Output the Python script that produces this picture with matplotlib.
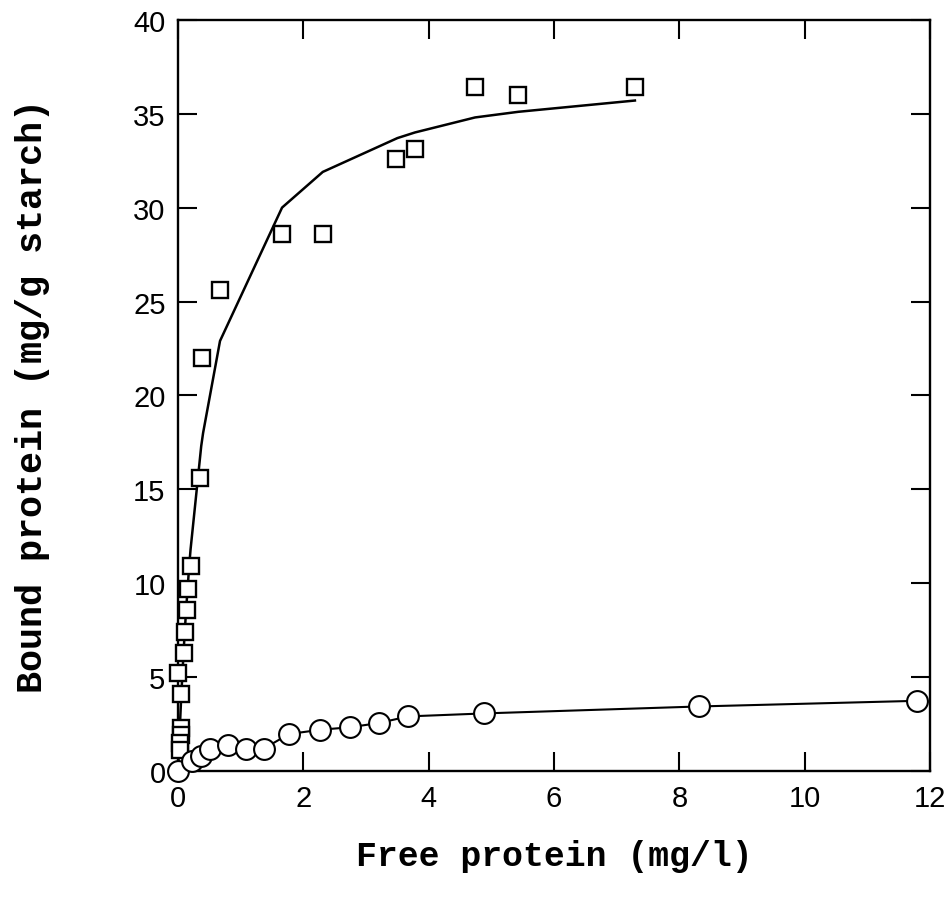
import matplotlib
matplotlib.use("Agg")
import matplotlib.pyplot as plt

# bound protein, square series (raw points)
sq_x = [7.29, 5.43, 4.74, 3.78, 3.48, 2.31, 1.66, 0.67, 0.38, 0.35,
        0.20, 0.16, 0.14, 0.11, 0.09, 0.00, 0.04, 0.04, 0.04, 0.03, 0.03]
sq_y = [36.4, 36.0, 36.4, 33.1, 32.6, 28.6, 28.6, 25.6, 22.0, 15.6,
        10.9, 9.7, 8.6, 7.4, 6.3, 5.2, 4.1, 2.3, 1.9, 1.5, 1.1]

# fitted curve through the squares
fit_x = [0.0, 0.03, 0.05, 0.08, 0.10, 0.12, 0.15, 0.18, 0.20, 0.37, 0.40,
         0.67, 1.66, 2.31, 3.50, 3.78, 4.74, 5.43, 7.29]
fit_y = [0.0, 2.4, 3.9, 5.8, 7.0, 8.1, 9.6, 11.0, 11.8, 17.3, 18.0,
         22.9, 30.0, 31.9, 33.7, 34.0, 34.8, 35.1, 35.7]

# circle series
ci_x = [0.0, 0.22, 0.36, 0.51, 0.80, 1.09, 1.37, 1.77, 2.27, 2.74,
        3.21, 3.67, 4.89, 8.32, 11.79]
ci_y = [0.0, 0.55, 0.82, 1.2, 1.38, 1.17, 1.2, 1.97, 2.2, 2.33,
        2.56, 2.91, 3.07, 3.44, 3.74]

xticks = [0, 2, 4, 6, 8, 10, 12]
yticks = [0, 5, 10, 15, 20, 25, 30, 35, 40]

fig = plt.figure(figsize=(9.52, 9.03), dpi=100)
ax = fig.add_axes([0.187, 0.145, 0.79, 0.832])

ax.plot(fit_x, fit_y, color="black", linewidth=1.8, zorder=2)
ax.plot(sq_x, sq_y, linestyle="none", marker="s", markersize=12,
        markerfacecolor="white", markeredgecolor="black",
        markeredgewidth=1.7, zorder=3, clip_on=False)
ax.plot(ci_x, ci_y, color="black", linewidth=1.5, marker="o",
        markersize=15, markerfacecolor="white", markeredgecolor="black",
        markeredgewidth=1.5, zorder=3, clip_on=False)

ax.set_xlim(0, 12)
ax.set_ylim(0, 40)
ax.set_xticks(xticks)
ax.set_yticks(yticks)
ax.tick_params(direction="in", length=14, width=1.5, top=True, right=True,
               labelsize=21, pad=9)
for lab in ax.get_xticklabels() + ax.get_yticklabels():
    lab.set_family("Liberation Sans")
for s in ax.spines.values():
    s.set_linewidth(1.7)

ax.set_xlabel("Free protein (mg/l)", fontsize=25, family="Liberation Mono",
              fontweight="bold", labelpad=20)
ax.set_ylabel("Bound protein (mg/g starch)", fontsize=26.5,
              family="Liberation Mono", fontweight="bold", labelpad=60)

fig.savefig("out.png", dpi=100)
